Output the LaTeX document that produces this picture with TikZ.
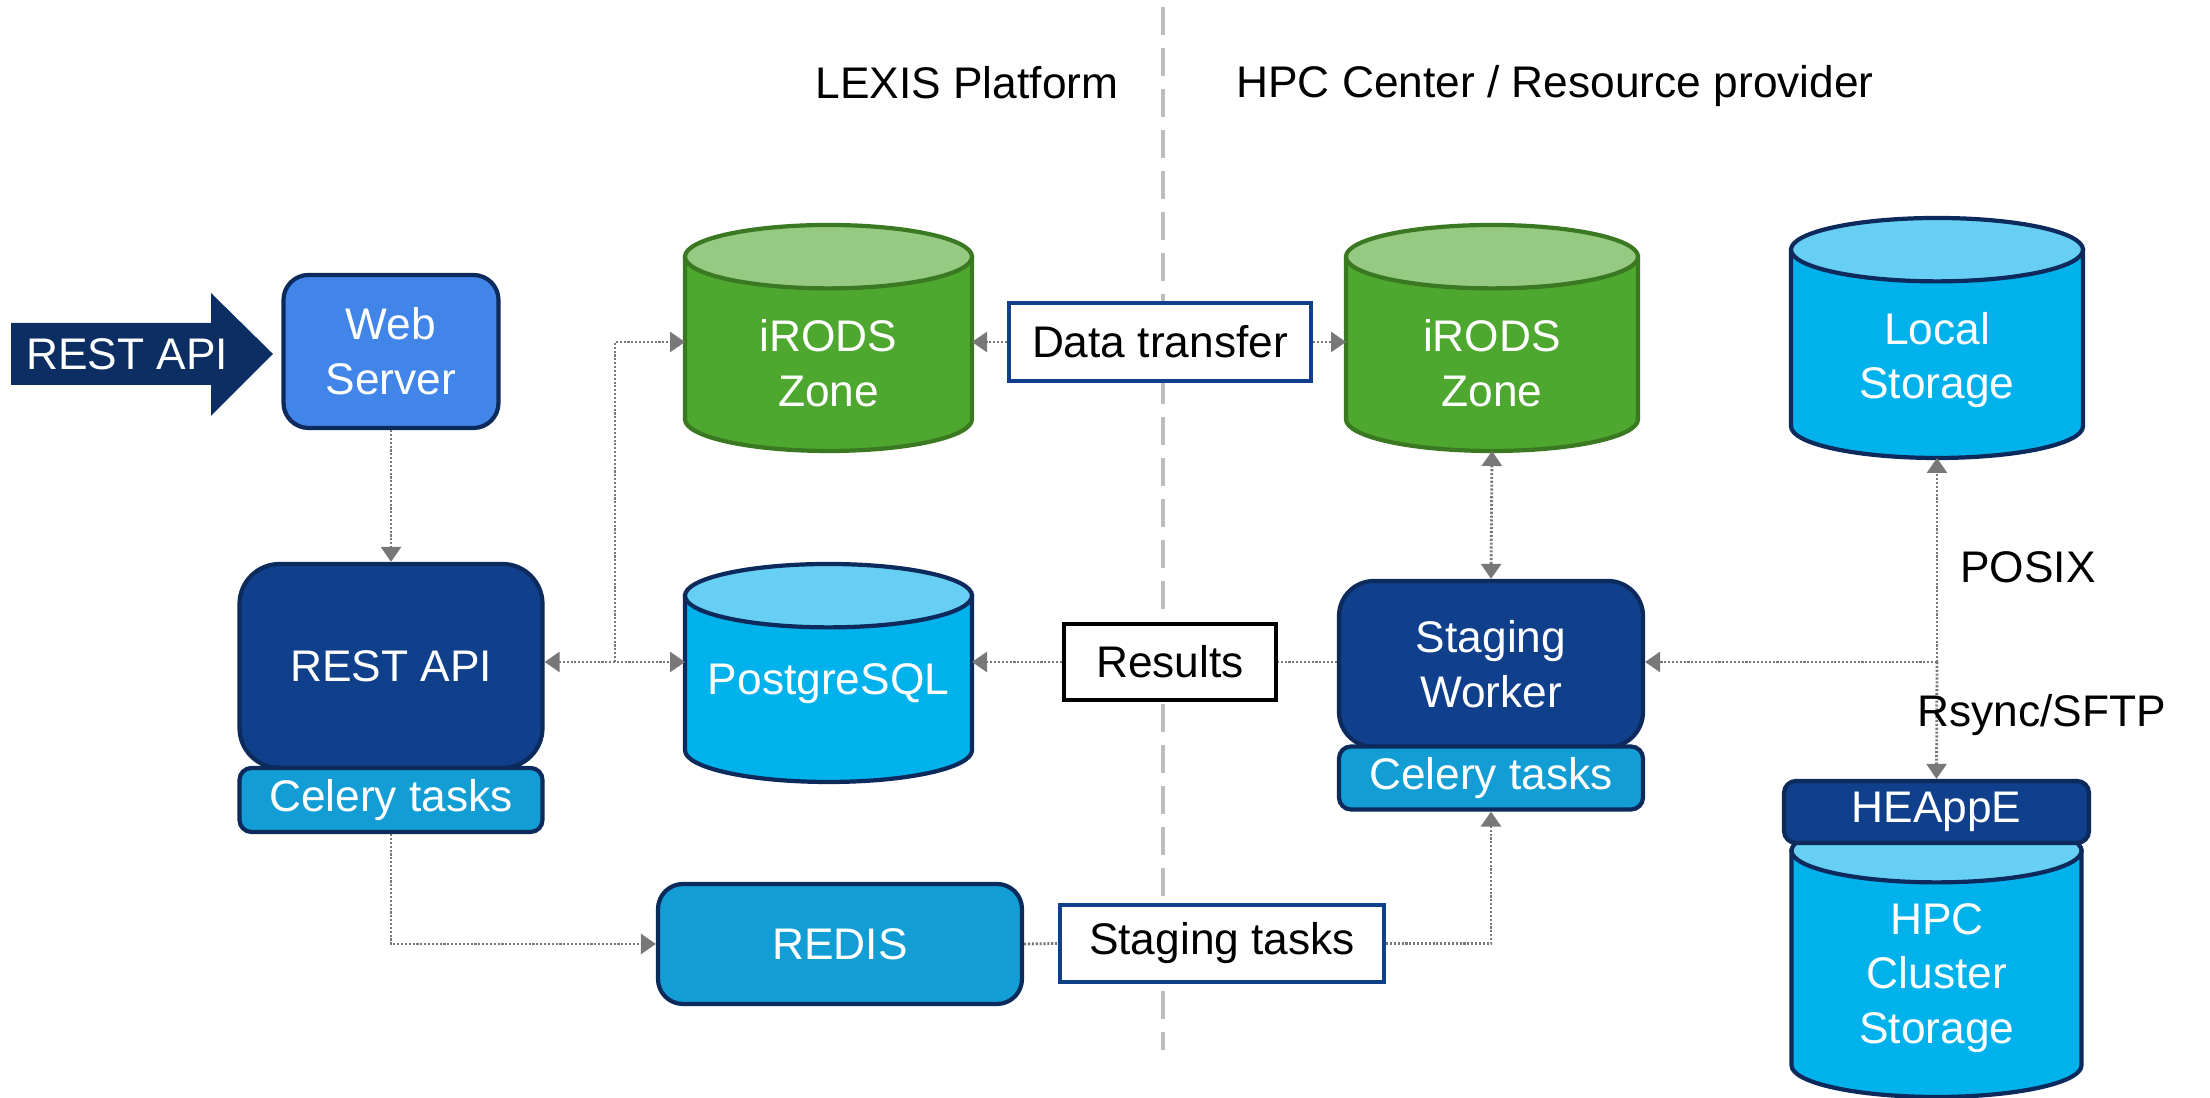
\documentclass[tikz,border=0pt]{standalone}
\usepackage{fontspec}
\setmainfont{Liberation Sans}
\usetikzlibrary{arrows.meta}
\usetikzlibrary{calc}

\definecolor{navy}{RGB}{16,63,140}
\definecolor{edge}{RGB}{12,42,92}
\definecolor{webblue}{RGB}{66,133,232}
\definecolor{celblue}{RGB}{18,158,213}
\definecolor{dbbody}{RGB}{0,178,235}
\definecolor{dbtop}{RGB}{102,207,243}
\definecolor{grbody}{RGB}{78,167,46}
\definecolor{grtop}{RGB}{150,202,130}
\definecolor{gredge}{RGB}{58,120,34}
\definecolor{linkgray}{RGB}{120,120,120}
\definecolor{divgray}{RGB}{190,190,190}
\definecolor{apiarrow}{RGB}{12,46,99}

% cylinder drawn inside the box of node #1
\newcommand{\dbcyl}[4]{%
  \draw[draw=#4, line width=1.2pt, fill=#2] let \p1=(#1.north west), \p2=(#1.south east), \n1={(\x2-\x1)/2} in
    (\x1,\y1-0.317cm) -- (\x1,\y2+0.317cm) arc[start angle=180, end angle=360, x radius=\n1, y radius=0.317cm]
    -- (\x2,\y1-0.317cm) -- cycle;
  \draw[draw=#4, line width=1.2pt, fill=#3] let \p1=(#1.north west), \p2=(#1.south east), \n1={(\x2-\x1)/2} in
    (\x1+\n1,\y1-0.317cm) ellipse[x radius=\n1, y radius=0.317cm];
}

\tikzset{
  txt/.style={font=\fontsize{12.6}{15.6}\selectfont},
  box/.style={txt, draw=edge, line width=1.2pt, text=white, align=center, inner sep=0pt},
  tag/.style={txt, draw, line width=1.2pt, fill=white, inner sep=0pt},
  dbbox/.style={inner sep=0pt, outer sep=0pt},
  dbtxt/.style={txt, text=white, align=center},
  link/.style={draw=linkgray, line width=0.8pt, dash pattern=on 0.6pt off 0.5pt,
    arrows={-Triangle[length=1.5mm, width=2mm, fill=linkgray]}},
}

\begin{document}
\begin{tikzpicture}
    \useasboundingbox (0,0) rectangle (22.10,10.98);

    % platform border
    \draw[divgray, line width=1.4pt, dash pattern=on 0.28cm off 0.13cm] (11.63,10.91) -- (11.63,0.48);
    \node[txt] (lexis) at (9.67,10.15) {LEXIS Platform};
    \node[txt] (hpcc) at (15.55,10.12) {HPC Center / Resource provider};

    % REST API arrow
    \fill[apiarrow] (0.11,7.75) -- (2.11,7.75) -- (2.11,8.05) -- (2.73,7.44)
        -- (2.11,6.82) -- (2.11,7.13) -- (0.11,7.13) -- cycle;
    \node[txt, text=white] (restin) at (1.27,7.44) {REST API};

    % LEXIS side
    \node[box, fill=webblue, rounded corners=0.25cm, minimum width=2.15cm, minimum height=1.53cm] (web) at (3.91,7.465) {Web\\Server};
    \node[box, fill=navy, rounded corners=0.4cm, minimum width=3.03cm, minimum height=2.04cm] (api) at (3.91,4.32) {REST API};
    \node[box, fill=celblue, rounded corners=0.12cm, minimum width=3.03cm, minimum height=0.64cm] (apicel) at (3.91,2.98) {Celery tasks};
    \node[dbbox, minimum width=2.87cm, minimum height=2.26cm] (irodsl) at (8.285,7.60) {};
    \dbcyl{irodsl}{grbody}{grtop}{gredge}
    \node[dbtxt] (irodsl-t) at (8.285,7.35) {iRODS\\Zone};
    \node[dbbox, minimum width=2.87cm, minimum height=2.18cm] (pg) at (8.285,4.25) {};
    \dbcyl{pg}{dbbody}{dbtop}{edge}
    \node[dbtxt] (pg-t) at (8.285,4.14) {PostgreSQL};
    \node[box, fill=celblue, rounded corners=0.25cm, minimum width=3.64cm, minimum height=1.20cm] (redis) at (8.40,1.54) {REDIS};

    % HPC side
    \node[dbbox, minimum width=2.92cm, minimum height=2.26cm] (irodsr) at (14.92,7.60) {};
    \dbcyl{irodsr}{grbody}{grtop}{gredge}
    \node[dbtxt] (irodsr-t) at (14.92,7.35) {iRODS\\Zone};
    \node[dbbox, minimum width=2.92cm, minimum height=2.40cm] (local) at (19.37,7.60) {};
    \dbcyl{local}{dbbody}{dbtop}{edge}
    \node[dbtxt] (local-t) at (19.37,7.38) {Local\\Storage};
    \node[box, fill=navy, rounded corners=0.35cm, minimum width=3.04cm, minimum height=1.66cm] (sw) at (14.91,4.34) {Staging\\Worker};
    \node[box, fill=celblue, rounded corners=0.12cm, minimum width=3.04cm, minimum height=0.63cm] (swcel) at (14.91,3.20) {Celery tasks};
    \node[dbbox, minimum width=2.90cm, minimum height=2.78cm] (hpc) at (19.365,1.40) {};
    \dbcyl{hpc}{dbbody}{dbtop}{edge}
    \node[dbtxt] (hpc-t) at (19.37,1.20) {HPC\\Cluster\\Storage};
    \node[box, fill=navy, rounded corners=0.12cm, minimum width=3.05cm, minimum height=0.62cm] (heappe) at (19.365,2.86) {HEAppE};

    % transfer labels
    \node[tag, draw=navy, minimum width=3.02cm, minimum height=0.78cm] (dt) at (11.60,7.56) {Data transfer};
    \node[tag, draw=black, minimum width=2.12cm, minimum height=0.76cm] (res) at (11.70,4.36) {Results};
    \node[tag, draw=navy, minimum width=3.24cm, minimum height=0.77cm] (st) at (12.22,1.545) {Staging tasks};

    % connectors
    \draw[link] (web.south) -- (web.south |- api.north);
    \coordinate (jl) at (6.15,4.36);
    \draw[link, arrows={Triangle[length=1.5mm, width=2mm, fill=linkgray]-Triangle[length=1.5mm, width=2mm, fill=linkgray]}] (api.east |- jl) -- (jl -| pg.west);
    \draw[link] (jl) |- (irodsl.west |- dt.west);
    \draw[link] (dt.west) -- (dt.west -| irodsl.east);
    \draw[link] (dt.east) -- (dt.east -| irodsr.west);
    \draw[link, arrows={Triangle[length=1.5mm, width=2mm, fill=linkgray]-Triangle[length=1.5mm, width=2mm, fill=linkgray]}] (irodsr.south) -- (sw.north);
    \draw[link, arrows=-] (sw.west |- res.east) -- (res.east);
    \draw[link] (res.west) -- (res.west -| pg.east);
    \coordinate (jr) at (19.37,4.36);
    \draw[link] (jr) -- (jr -| sw.east);
    \draw[link] (jr) -- (local.south);
    \draw[link] (jr) -- (heappe.north);
    \draw[link] (apicel.south) |- (redis.west);
    \draw[link, arrows=-] (redis.east) -- (st.west);
    \draw[link] (st.east) -| (swcel.south);

    \node[txt, anchor=west] (posix) at (19.48,5.31) {POSIX};
    \node[txt, anchor=west] (rsync) at (19.05,3.83) {Rsync/SFTP};
\end{tikzpicture}
\end{document}
